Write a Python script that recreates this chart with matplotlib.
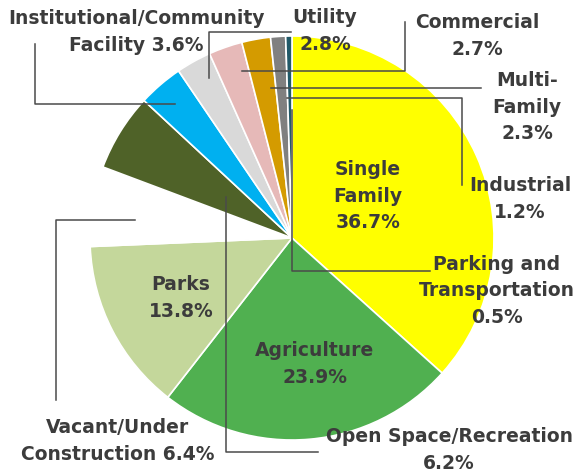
import matplotlib.pyplot as plt

# land use shares, clockwise from 12 o'clock
categories = ["Single Family", "Agriculture", "Parks", "Vacant/Under Construction",
              "Open Space/Recreation", "Institutional/Community Facility", "Utility",
              "Commercial", "Multi-Family", "Industrial", "Parking and Transportation"]
shares = [36.7, 23.9, 13.8, 6.4, 6.2, 3.6, 2.8, 2.7, 2.3, 1.2, 0.5]
colors = ["#FFFF00", "#50B050", "#C4D79B", "#FFFFFF", "#4F6228", "#00B0F0",
          "#D9D9D9", "#E6B9B8", "#D49B00", "#808080", "#215968"]

W, H = 578, 474
TXT = "#3C3C3C"


def Y(y):
    # image row -> data y
    return H - y


fig = plt.figure(figsize=(W / 100, H / 100), dpi=100)
ax = fig.add_axes([0, 0, 1, 1])
ax.axis("off")

ax.pie(shares, colors=colors, startangle=90, counterclock=False,
       center=(292, Y(238)), radius=202,
       wedgeprops=dict(edgecolor="white", linewidth=1.2))
ax.set_xlim(0, W)
ax.set_ylim(0, H)
ax.set_aspect("equal")

# leader lines (image coords)
leaders = [
    [(292, 110), (292, 271), (430, 271)],           # parking
    [(287, 98), (462, 98), (462, 185)],             # industrial
    [(271, 88), (481, 88)],                         # multi-family
    [(242, 71), (405, 71), (405, 22)],              # commercial
    [(209, 78), (209, 32), (291, 32)],              # utility
    [(175, 104), (35, 104), (35, 44)],              # institutional
    [(226, 197), (226, 452), (318, 452)],           # open space
    [(135, 220), (56, 220), (56, 400)],             # vacant
]
for pts in leaders:
    ax.plot([p[0] for p in pts], [Y(p[1]) for p in pts], color="#4A4A4A", lw=1.1)

fs = 13.5
labels = [
    (368, 196, "Single\nFamily\n36.7%"),
    (315, 364, "Agriculture\n23.9%"),
    (181, 298, "Parks\n13.8%"),
    (136, 32, "Institutional/Community\nFacility 3.6%"),
    (325, 31, "Utility\n2.8%"),
    (477, 36, "Commercial\n2.7%"),
    (527, 107, "Multi-\nFamily\n2.3%"),
    (520, 199, "Industrial\n1.2%"),
    (497, 291, "Parking and\nTransportation\n0.5%"),
    (449, 450, "Open Space/Recreation\n6.2%"),
    (118, 441, "Vacant/Under\nConstruction 6.4%"),
]
for x, y, s in labels:
    ax.text(x, Y(y), s, ha="center", va="center", fontsize=fs,
            fontweight="bold", color=TXT, linespacing=1.5)

fig.savefig("out.png", dpi=100)
